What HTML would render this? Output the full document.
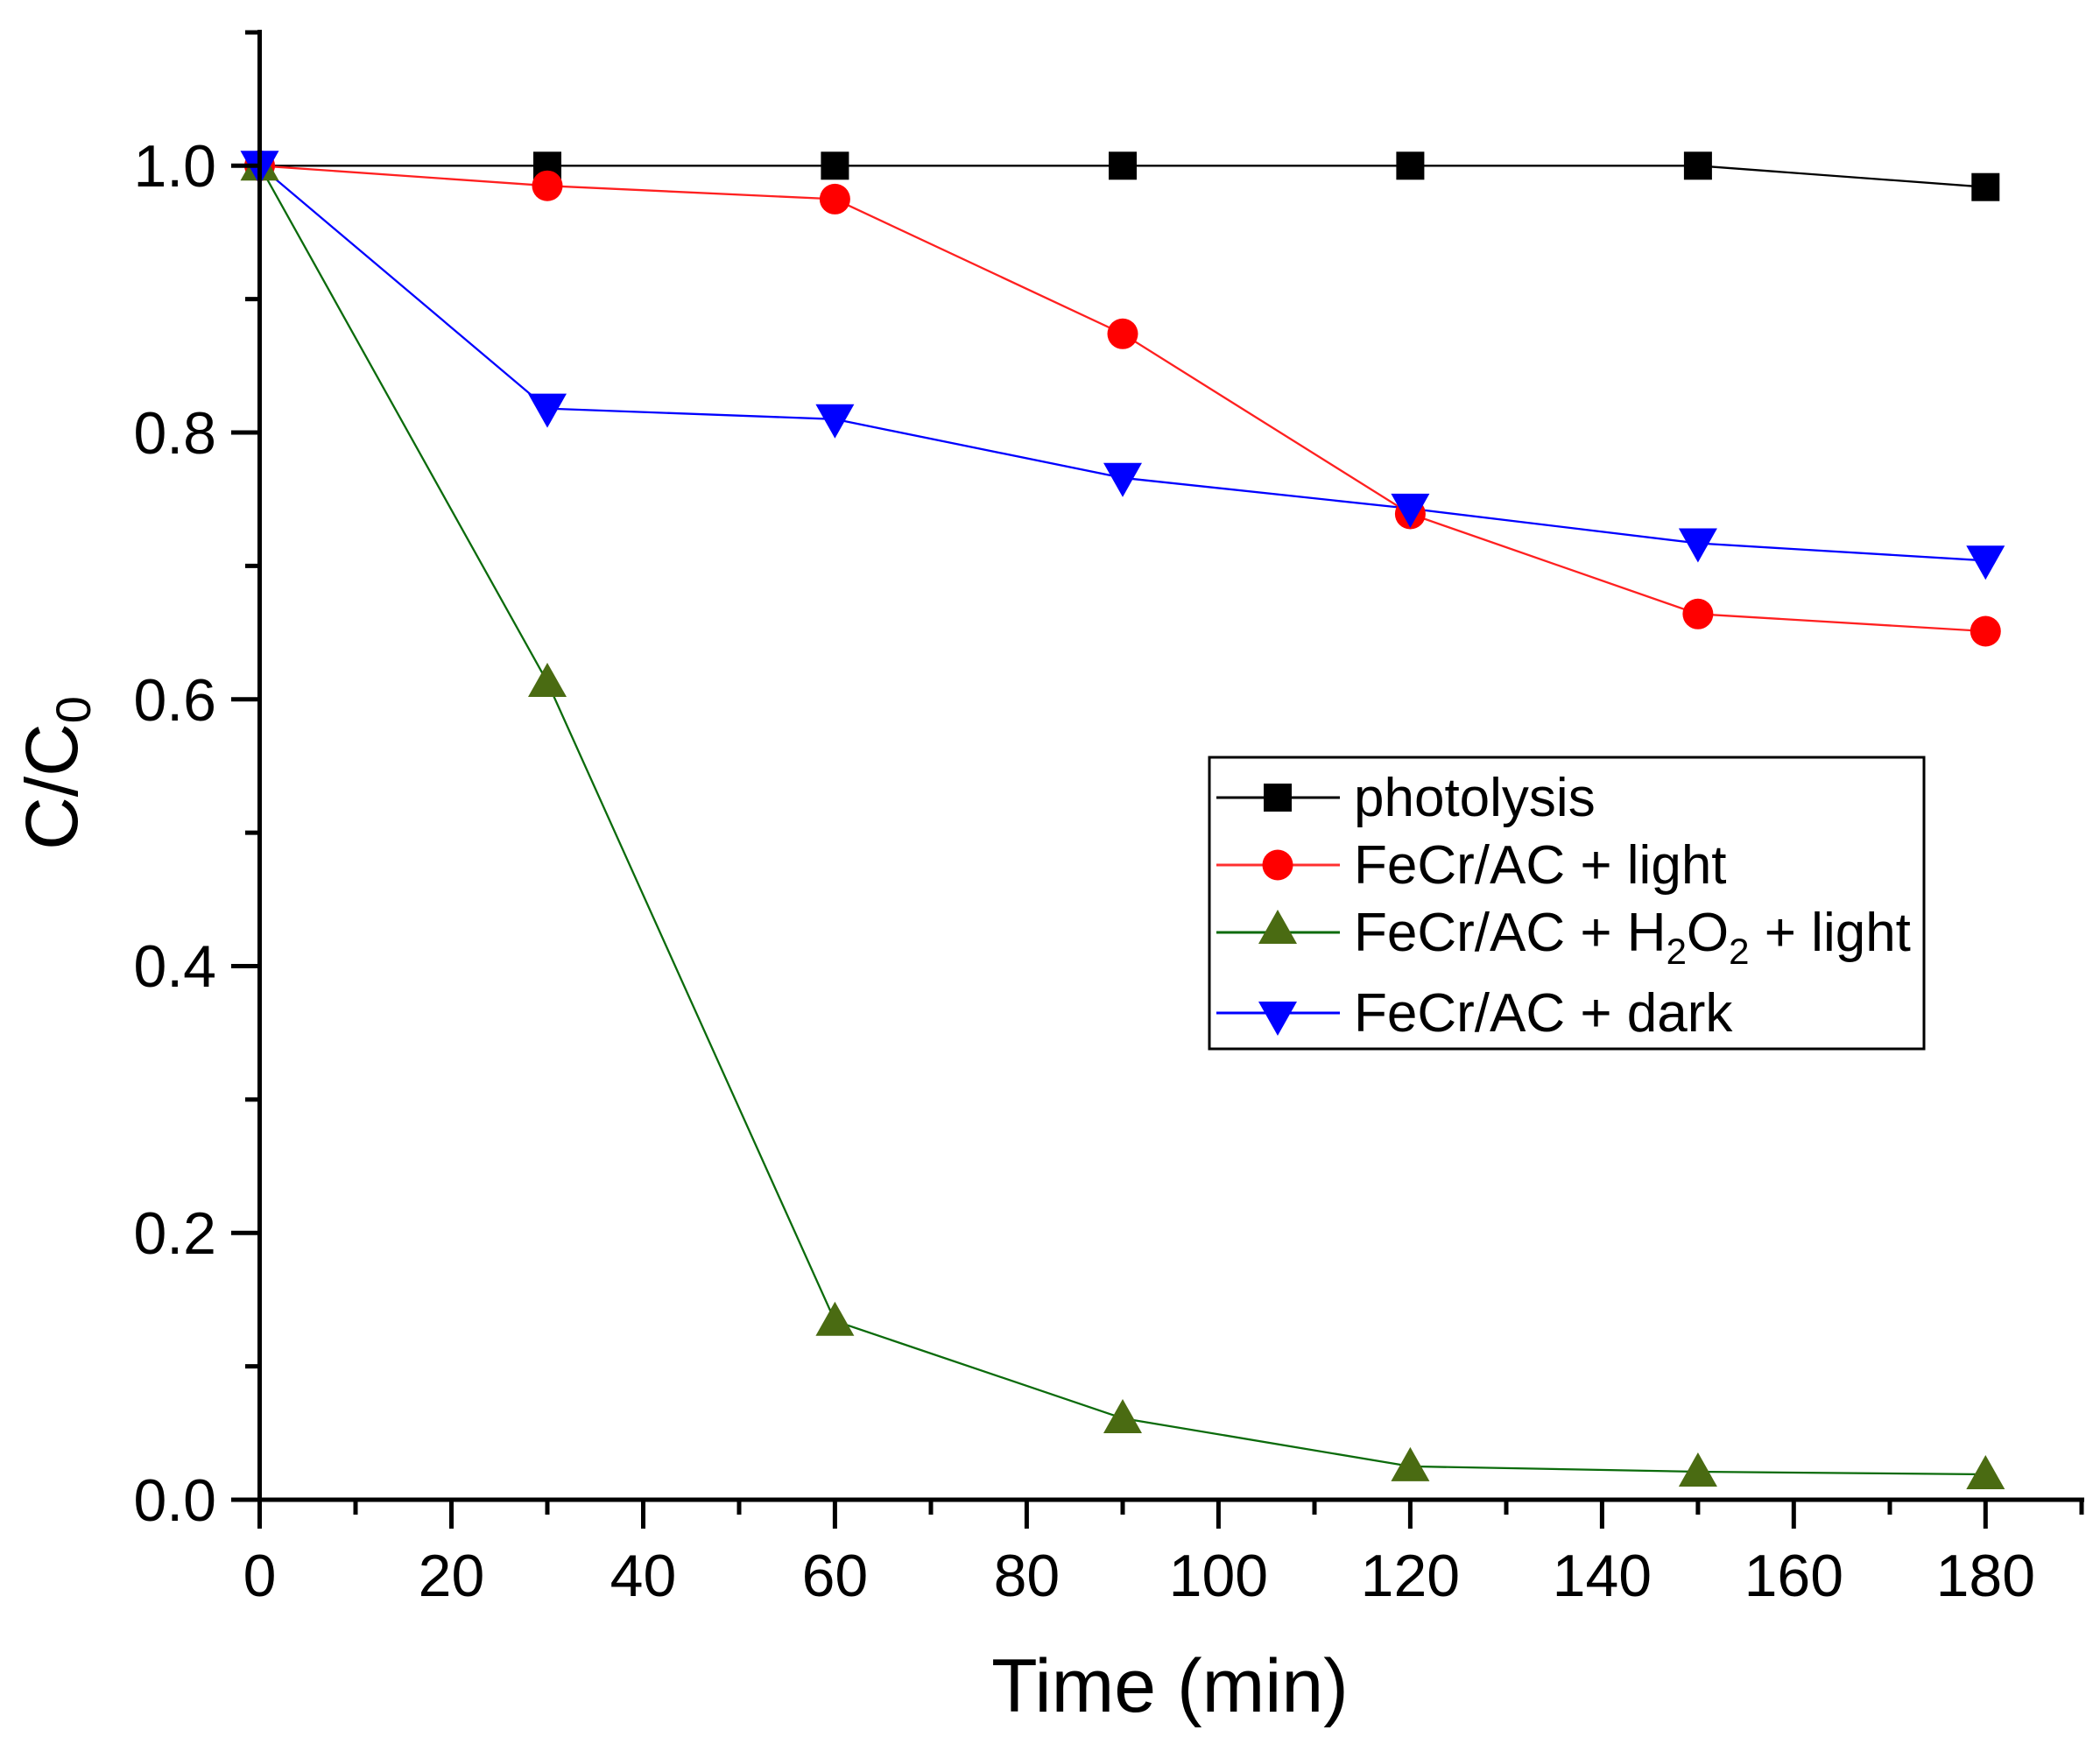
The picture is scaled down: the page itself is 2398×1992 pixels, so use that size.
<!DOCTYPE html>
<html><head><meta charset="utf-8"><style>html,body{margin:0;padding:0;background:#fff}svg{display:block}</style></head>
<body>
<svg width="2398" height="1992" viewBox="0 0 2398 1992" xmlns="http://www.w3.org/2000/svg" font-family="Liberation Sans, Arial, sans-serif">
<defs>
<rect id="sq" x="-16" y="-16" width="32" height="32" fill="#000"/>
<circle id="ci" r="17.5" fill="#ff0000"/>
<polygon id="tu" points="0,-22 22,17 -22,17" fill="#4a6b12"/>
<polygon id="td" points="0,22 22,-17 -22,-17" fill="#0000ff"/>
</defs>
<polyline fill="none" stroke="#000" stroke-width="2.3" points="296.5,189.3 625,189.3 953.4,189.3 1282,189.3 1610.4,189.3 1938.9,189.3 2267.3,213.7"/>
<polyline fill="none" stroke="#ff2020" stroke-width="2.3" points="296.5,189.3 625,212.2 953.4,227.4 1282,381.3 1610.4,587 1938.9,701.3 2267.3,721"/>
<polyline fill="none" stroke="#0b6b0b" stroke-width="2.3" points="296.5,189.3 625,779 953.4,1508.8 1282,1620 1610.4,1674.9 1938.9,1681 2267.3,1684"/>
<polyline fill="none" stroke="#0000ff" stroke-width="2.3" points="296.5,189.3 625,466.6 953.4,478.8 1282,545.8 1610.4,580.9 1938.9,620.5 2267.3,640.3"/>
<g>
<use href="#sq" x="296.5" y="189.3"/><use href="#sq" x="625" y="189.3"/><use href="#sq" x="953.4" y="189.3"/><use href="#sq" x="1282" y="189.3"/><use href="#sq" x="1610.4" y="189.3"/><use href="#sq" x="1938.9" y="189.3"/><use href="#sq" x="2267.3" y="213.7"/>
<use href="#ci" x="296.5" y="189.3"/><use href="#ci" x="625" y="212.2"/><use href="#ci" x="953.4" y="227.4"/><use href="#ci" x="1282" y="381.3"/><use href="#ci" x="1610.4" y="587"/><use href="#ci" x="1938.9" y="701.3"/><use href="#ci" x="2267.3" y="721"/>
<use href="#tu" x="296.5" y="189.3"/><use href="#tu" x="625" y="779"/><use href="#tu" x="953.4" y="1508.8"/><use href="#tu" x="1282" y="1620"/><use href="#tu" x="1610.4" y="1674.9"/><use href="#tu" x="1938.9" y="1681"/><use href="#tu" x="2267.3" y="1684"/>
<use href="#td" x="296.5" y="189.3"/><use href="#td" x="625" y="466.6"/><use href="#td" x="953.4" y="478.8"/><use href="#td" x="1282" y="545.8"/><use href="#td" x="1610.4" y="580.9"/><use href="#td" x="1938.9" y="620.5"/><use href="#td" x="2267.3" y="640.3"/>
</g>
<g stroke="#000" stroke-width="5" fill="none">
<line x1="296.5" y1="34" x2="296.5" y2="1715.5"/>
<line x1="294" y1="1713" x2="2380" y2="1713"/>
<path d="M296.5 1713H264M296.5 1408.3H264M296.5 1103.5H264M296.5 798.8H264M296.5 494H264M296.5 189.3H264"/>
<path d="M296.5 1560.6H280M296.5 1255.9H280M296.5 951.1H280M296.5 646.4H280M296.5 341.6H280M296.5 37H280"/>
<path d="M296.5 1713V1746M515.5 1713V1746M734.5 1713V1746M953.4 1713V1746M1172.4 1713V1746M1391.4 1713V1746M1610.4 1713V1746M1829.4 1713V1746M2048.3 1713V1746M2267.3 1713V1746"/>
<path d="M406 1713V1730M625 1713V1730M844 1713V1730M1063 1713V1730M1282 1713V1730M1501 1713V1730M1720 1713V1730M1938.9 1713V1730M2158 1713V1730M2377 1713V1730"/>
</g>
<g font-size="68" fill="#000" text-anchor="middle">
<text x="296.5" y="1823">0</text><text x="515.5" y="1823">20</text><text x="734.5" y="1823">40</text><text x="953.4" y="1823">60</text><text x="1172.4" y="1823">80</text><text x="1391.4" y="1823">100</text><text x="1610.4" y="1823">120</text><text x="1829.4" y="1823">140</text><text x="2048.3" y="1823">160</text><text x="2267.3" y="1823">180</text>
</g>
<g font-size="68" fill="#000" text-anchor="end">
<text x="247" y="1737">0.0</text><text x="247" y="1432">0.2</text><text x="247" y="1127">0.4</text><text x="247" y="823">0.6</text><text x="247" y="518">0.8</text><text x="247" y="213">1.0</text>
</g>
<text x="1336" y="1955" font-size="86" text-anchor="middle">Time (min)</text>
<text transform="translate(88,883) rotate(-90)" font-size="84" text-anchor="middle">C/C<tspan font-size="56" dy="15">0</tspan></text>
<rect x="1381" y="865" width="816" height="333" fill="#fff" stroke="#000" stroke-width="3"/>
<g stroke-width="3">
<line x1="1389" y1="911" x2="1530" y2="911" stroke="#000"/>
<line x1="1389" y1="988" x2="1530" y2="988" stroke="#ff3030"/>
<line x1="1389" y1="1065" x2="1530" y2="1065" stroke="#0b6b0b"/>
<line x1="1389" y1="1157" x2="1530" y2="1157" stroke="#0000ff"/>
</g>
<use href="#sq" x="1459" y="911"/><use href="#ci" x="1459" y="988"/><use href="#tu" x="1459" y="1061"/><use href="#td" x="1459" y="1161"/>
<g font-size="62" fill="#000">
<text x="1546" y="932">photolysis</text>
<text x="1546" y="1009">FeCr/AC + light</text>
<text x="1546" y="1086">FeCr/AC + H<tspan font-size="42" dy="15">2</tspan><tspan dy="-15">O</tspan><tspan font-size="42" dy="15">2</tspan><tspan dy="-15"> + light</tspan></text>
<text x="1546" y="1178">FeCr/AC + dark</text>
</g>
</svg>
</body></html>
